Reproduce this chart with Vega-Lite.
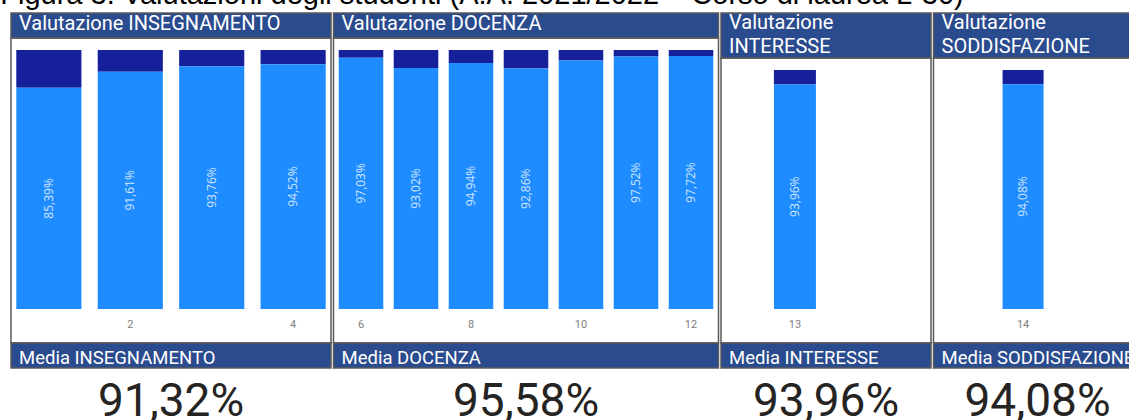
{
  "$schema": "https://vega.github.io/schema/vega-lite/v6.json",
  "padding": {"left": 0, "top": -19, "right": 0, "bottom": 0},
  "background": "white",
  "title": {"text": "Figura 3. Valutazioni degli studenti (A.A. 2021/2022 – Corso di laurea L-30)", "anchor": "start", "dx": -10, "font": "Liberation Sans", "fontSize": 29, "fontWeight": "normal", "color": "#000000", "offset": 2},
  "datasets": {
    "d": [
      {"panel": 1, "q": 1, "val": 85.39, "lab": "85,39%"},
      {"panel": 1, "q": 2, "val": 91.61, "lab": "91,61%"},
      {"panel": 1, "q": 3, "val": 93.76, "lab": "93,76%"},
      {"panel": 1, "q": 4, "val": 94.52, "lab": "94,52%"},
      {"panel": 2, "q": 6, "val": 97.03, "lab": "97,03%"},
      {"panel": 2, "q": 7, "val": 93.02, "lab": "93,02%"},
      {"panel": 2, "q": 8, "val": 94.94, "lab": "94,94%"},
      {"panel": 2, "q": 9, "val": 92.86, "lab": "92,86%"},
      {"panel": 2, "q": 10, "val": 95.97, "lab": ""},
      {"panel": 2, "q": 11, "val": 97.52, "lab": "97,52%"},
      {"panel": 2, "q": 12, "val": 97.72, "lab": "97,72%"},
      {"panel": 3, "q": 13, "val": 93.96, "lab": "93,96%"},
      {"panel": 4, "q": 14, "val": 94.08, "lab": "94,08%"}
    ]
  },
  "spacing": 0.5,
  "hconcat": [
    {
      "spacing": 0,
      "bounds": "flush",
      "vconcat": [
        {"width": 320, "height": 25, "view": {"fill": "#2A4B8D"}, "data": {"values": [{"t": "Valutazione INSEGNAMENTO"}]},
         "mark": {"type": "text", "align": "left", "baseline": "middle", "dx": 8, "dy": -2, "font": "Roboto", "fontSize": 20, "color": "white"},
         "encoding": {"text": {"field": "t", "type": "nominal"}, "x": {"datum": 0, "type": "quantitative", "scale": {"domain": [0, 1]}, "axis": null}}},
        {"width": 320, "height": 305, "data": {"name": "d"}, "transform": [{"filter": "datum.panel == 1"}, {"calculate": "datum.val / 2", "as": "mid"}],
         "encoding": {"x": {"field": "q", "type": "ordinal", "scale": {"paddingInner": 0.2, "paddingOuter": 0.065}, "axis": {"values": [2, 4]}}},
         "layer": [
           {"mark": {"type": "bar", "color": "#16209A"}, "encoding": {"y": {"field": "val", "type": "quantitative", "scale": {"domain": [-13.13, 104.63], "nice": false, "zero": false}, "axis": null}, "y2": {"datum": 100}}},
           {"mark": {"type": "bar", "color": "#1E8CFF"}, "encoding": {"y": {"field": "val", "type": "quantitative", "scale": {"domain": [-13.13, 104.63], "nice": false, "zero": false}, "axis": null}, "y2": {"datum": 0}}},
           {"mark": {"type": "text", "angle": 270, "align": "center", "baseline": "middle", "font": "Open Sans", "fontSize": 12, "color": "#D3E5FF"}, "encoding": {"y": {"field": "mid", "type": "quantitative", "scale": {"domain": [-13.13, 104.63], "nice": false, "zero": false}, "axis": null}, "text": {"field": "lab", "type": "nominal"}}}
         ]},
        {"width": 320, "height": 25, "view": {"fill": "#2A4B8D"}, "data": {"values": [{"t": "Media INSEGNAMENTO"}]},
         "mark": {"type": "text", "align": "left", "baseline": "middle", "dx": 8, "dy": 2, "font": "Roboto", "fontSize": 18.5, "color": "white"},
         "encoding": {"text": {"field": "t", "type": "nominal"}, "x": {"datum": 0, "type": "quantitative", "scale": {"domain": [0, 1]}, "axis": null}}},
        {"width": 320, "height": 52, "data": {"values": [{"t": "91,32%"}]},
         "mark": {"type": "text", "align": "center", "baseline": "alphabetic", "dy": 22, "font": "Roboto", "fontSize": 46, "color": "#252423"},
         "encoding": {"text": {"field": "t", "type": "nominal"}}}
      ]
    },
    {
      "spacing": 0,
      "bounds": "flush",
      "vconcat": [
        {"width": 385, "height": 25, "view": {"fill": "#2A4B8D"}, "data": {"values": [{"t": "Valutazione DOCENZA"}]},
         "mark": {"type": "text", "align": "left", "baseline": "middle", "dx": 8, "dy": -2, "font": "Roboto", "fontSize": 20, "color": "white"},
         "encoding": {"text": {"field": "t", "type": "nominal"}, "x": {"datum": 0, "type": "quantitative", "scale": {"domain": [0, 1]}, "axis": null}}},
        {"width": 385, "height": 305, "data": {"name": "d"}, "transform": [{"filter": "datum.panel == 2"}, {"calculate": "datum.val / 2", "as": "mid"}],
         "encoding": {"x": {"field": "q", "type": "ordinal", "scale": {"paddingInner": 0.19, "paddingOuter": 0.095}, "axis": {"values": [6, 8, 10, 12]}}},
         "layer": [
           {"mark": {"type": "bar", "color": "#16209A"}, "encoding": {"y": {"field": "val", "type": "quantitative", "scale": {"domain": [-13.13, 104.63], "nice": false, "zero": false}, "axis": null}, "y2": {"datum": 100}}},
           {"mark": {"type": "bar", "color": "#1E8CFF"}, "encoding": {"y": {"field": "val", "type": "quantitative", "scale": {"domain": [-13.13, 104.63], "nice": false, "zero": false}, "axis": null}, "y2": {"datum": 0}}},
           {"mark": {"type": "text", "angle": 270, "align": "center", "baseline": "middle", "font": "Open Sans", "fontSize": 12, "color": "#D3E5FF"}, "encoding": {"y": {"field": "mid", "type": "quantitative", "scale": {"domain": [-13.13, 104.63], "nice": false, "zero": false}, "axis": null}, "text": {"field": "lab", "type": "nominal"}}}
         ]},
        {"width": 385, "height": 25, "view": {"fill": "#2A4B8D"}, "data": {"values": [{"t": "Media DOCENZA"}]},
         "mark": {"type": "text", "align": "left", "baseline": "middle", "dx": 8, "dy": 2, "font": "Roboto", "fontSize": 18.5, "color": "white"},
         "encoding": {"text": {"field": "t", "type": "nominal"}, "x": {"datum": 0, "type": "quantitative", "scale": {"domain": [0, 1]}, "axis": null}}},
        {"width": 385, "height": 52, "data": {"values": [{"t": "95,58%"}]},
         "mark": {"type": "text", "align": "center", "baseline": "alphabetic", "dy": 22, "font": "Roboto", "fontSize": 46, "color": "#252423"},
         "encoding": {"text": {"field": "t", "type": "nominal"}}}
      ]
    },
    {
      "spacing": 0,
      "bounds": "flush",
      "vconcat": [
        {"width": 210, "height": 45, "view": {"fill": "#2A4B8D"}, "data": {"values": [{"t": ["Valutazione", "INTERESSE"]}]},
         "mark": {"type": "text", "align": "left", "baseline": "top", "dx": 8, "dy": -22.5, "lineHeight": 24, "font": "Roboto", "fontSize": 20, "color": "white"},
         "encoding": {"text": {"field": "t", "type": "nominal"}, "x": {"datum": 0, "type": "quantitative", "scale": {"domain": [0, 1]}, "axis": null}}},
        {"width": 210, "height": 285, "data": {"name": "d"}, "transform": [{"filter": "datum.panel == 3"}, {"calculate": "datum.val / 2", "as": "mid"}],
         "encoding": {"x": {"field": "q", "type": "ordinal", "scale": {"paddingInner": 0.5, "paddingOuter": 1.03, "align": 0.315}, "axis": {"values": [13]}}},
         "layer": [
           {"mark": {"type": "bar", "color": "#16209A"}, "encoding": {"y": {"field": "val", "type": "quantitative", "scale": {"domain": [-14.23, 105.02], "nice": false, "zero": false}, "axis": null}, "y2": {"datum": 100}}},
           {"mark": {"type": "bar", "color": "#1E8CFF"}, "encoding": {"y": {"field": "val", "type": "quantitative", "scale": {"domain": [-14.23, 105.02], "nice": false, "zero": false}, "axis": null}, "y2": {"datum": 0}}},
           {"mark": {"type": "text", "angle": 270, "align": "center", "baseline": "middle", "font": "Open Sans", "fontSize": 12, "color": "#D3E5FF"}, "encoding": {"y": {"field": "mid", "type": "quantitative", "scale": {"domain": [-14.23, 105.02], "nice": false, "zero": false}, "axis": null}, "text": {"field": "lab", "type": "nominal"}}}
         ]},
        {"width": 210, "height": 25, "view": {"fill": "#2A4B8D"}, "data": {"values": [{"t": "Media INTERESSE"}]},
         "mark": {"type": "text", "align": "left", "baseline": "middle", "dx": 8, "dy": 2, "font": "Roboto", "fontSize": 18.5, "color": "white"},
         "encoding": {"text": {"field": "t", "type": "nominal"}, "x": {"datum": 0, "type": "quantitative", "scale": {"domain": [0, 1]}, "axis": null}}},
        {"width": 210, "height": 52, "data": {"values": [{"t": "93,96%"}]},
         "mark": {"type": "text", "align": "center", "baseline": "alphabetic", "dy": 22, "font": "Roboto", "fontSize": 46, "color": "#252423"},
         "encoding": {"text": {"field": "t", "type": "nominal"}}}
      ]
    },
    {
      "spacing": 0,
      "bounds": "flush",
      "vconcat": [
        {"width": 198, "height": 45, "view": {"fill": "#2A4B8D"}, "data": {"values": [{"t": ["Valutazione", "SODDISFAZIONE"]}]},
         "mark": {"type": "text", "align": "left", "baseline": "top", "dx": 8, "dy": -22.5, "lineHeight": 24, "font": "Roboto", "fontSize": 20, "color": "white"},
         "encoding": {"text": {"field": "t", "type": "nominal"}, "x": {"datum": 0, "type": "quantitative", "scale": {"domain": [0, 1]}, "axis": null}}},
        {"width": 198, "height": 285, "data": {"name": "d"}, "transform": [{"filter": "datum.panel == 4"}, {"calculate": "datum.val / 2", "as": "mid"}],
         "encoding": {"x": {"field": "q", "type": "ordinal", "scale": {"paddingInner": 0.5, "paddingOuter": 0.957, "align": 0.44}, "axis": {"values": [14]}}},
         "layer": [
           {"mark": {"type": "bar", "color": "#16209A"}, "encoding": {"y": {"field": "val", "type": "quantitative", "scale": {"domain": [-14.23, 105.02], "nice": false, "zero": false}, "axis": null}, "y2": {"datum": 100}}},
           {"mark": {"type": "bar", "color": "#1E8CFF"}, "encoding": {"y": {"field": "val", "type": "quantitative", "scale": {"domain": [-14.23, 105.02], "nice": false, "zero": false}, "axis": null}, "y2": {"datum": 0}}},
           {"mark": {"type": "text", "angle": 270, "align": "center", "baseline": "middle", "font": "Open Sans", "fontSize": 12, "color": "#D3E5FF"}, "encoding": {"y": {"field": "mid", "type": "quantitative", "scale": {"domain": [-14.23, 105.02], "nice": false, "zero": false}, "axis": null}, "text": {"field": "lab", "type": "nominal"}}}
         ]},
        {"width": 198, "height": 25, "view": {"fill": "#2A4B8D"}, "data": {"values": [{"t": "Media SODDISFAZIONE"}]},
         "mark": {"type": "text", "align": "left", "baseline": "middle", "dx": 8, "dy": 2, "font": "Roboto", "fontSize": 18.5, "color": "white", "clip": true},
         "encoding": {"text": {"field": "t", "type": "nominal"}, "x": {"datum": 0, "type": "quantitative", "scale": {"domain": [0, 1]}, "axis": null}}},
        {"width": 198, "height": 52, "data": {"values": [{"t": "94,08%"}]},
         "mark": {"type": "text", "align": "center", "baseline": "alphabetic", "dx": 5, "dy": 22, "font": "Roboto", "fontSize": 46, "color": "#252423"},
         "encoding": {"text": {"field": "t", "type": "nominal"}}}
      ]
    }
  ],
  "config": {
    "view": {"stroke": "#5a5a5a", "strokeWidth": 1.5},
    "axisX": {"title": null, "ticks": false, "domain": false, "labelAngle": 0, "offset": -34, "labelPadding": 9, "labelColor": "#808080", "labelFont": "Roboto", "labelFontSize": 11, "grid": false}
  }
}
